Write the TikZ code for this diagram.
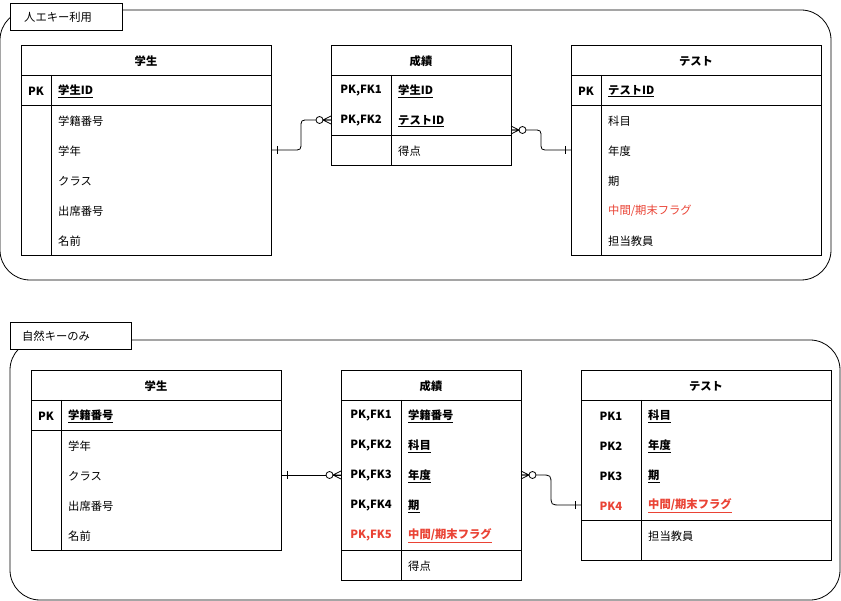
\documentclass[tikz,border=0pt]{standalone}
\usepackage{fontspec}
\setmainfont{Noto Sans CJK JP}
\definecolor{rd}{RGB}{234,67,53}
\newcommand\fsz{\fontsize{11.3}{13}\selectfont}
\begin{document}
\begin{tikzpicture}[x=1pt,y=-1pt,font=\fsz,
  box/.style={draw,line width=0.8pt,inner sep=0pt},
  grp/.style={draw,line width=0.8pt,rounded corners=30pt},
  lbl/.style={draw,fill=white,line width=0.8pt,inner sep=0pt,anchor=north west},
  t/.style={anchor=west,inner sep=0pt},
  tb/.style={anchor=west,inner sep=0pt,font=\fsz\bfseries},
  h/.style={font=\fsz\bfseries,inner sep=0pt},
  k/.style={anchor=center,inner sep=0pt,font=\fsz\bfseries},
  con/.style={line width=0.8pt}]
\useasboundingbox (0,0) rectangle (841,601);
% groups
\draw[grp] (0,10) rectangle (831,280);
\node[lbl,minimum width=112pt,minimum height=27pt] (g1) at (10,3) {};
\node[t] at (24,17) {人エキー利用};
\draw[grp] (10,340) rectangle (840,600);
\node[lbl,minimum width=121pt,minimum height=27pt] (g2) at (10,322) {};
\node[t] at (22,336) {自然キーのみ};

% ---- top: 学生
\draw[box,fill=white] (21,45) rectangle (271,255);
\draw[line width=0.8pt] (21,75)--(271,75) (21,105)--(271,105) (51,75)--(51,255);
\node[h] (a1) at (146,61) {学生};
\node[k] at (36,91) {PK};
\node[tb] at (58,91) {\underline{学生ID}};
\node[t] at (58,121) {学籍番号};
\node[t] at (58,151) {学年};
\node[t] at (58,181) {クラス};
\node[t] at (58,211) {出席番号};
\node[t] at (58,241) {名前};
% top: 成績
\draw[box,fill=white] (331,45) rectangle (511,165);
\draw[line width=0.8pt] (331,75)--(511,75) (331,135)--(511,135) (391,75)--(391,165);
\node[h] (a2) at (421,61) {成績};
\node[k] at (361,91) {PK,FK1};
\node[k] at (361,121) {PK,FK2};
\node[tb] at (398,91) {\underline{学生ID}};
\node[tb] at (398,121) {\underline{テストID}};
\node[t] at (398,151) {得点};
% top: テスト
\draw[box,fill=white] (571,45) rectangle (821,255);
\draw[line width=0.8pt] (571,75)--(821,75) (571,105)--(821,105) (601,75)--(601,255);
\node[h] (a3) at (696,61) {テスト};
\node[k] at (586,91) {PK};
\node[tb] at (608,91) {\underline{テストID}};
\node[t] at (608,121) {科目};
\node[t] at (608,151) {年度};
\node[t] at (608,181) {期};
\node[t,text=rd] at (608,211) {中間/期末フラグ};
\node[t] at (608,241) {担当教員};

% ---- bottom: 学生
\draw[box,fill=white] (31,370) rectangle (281,550);
\draw[line width=0.8pt] (31,400)--(281,400) (31,430)--(281,430) (61,400)--(61,550);
\node[h] (b1) at (156,386) {学生};
\node[k] at (46,416) {PK};
\node[tb] at (68,416) {\underline{学籍番号}};
\node[t] at (68,446) {学年};
\node[t] at (68,476) {クラス};
\node[t] at (68,506) {出席番号};
\node[t] at (68,536) {名前};
% bottom: 成績
\draw[box,fill=white] (341,370) rectangle (521,580);
\draw[line width=0.8pt] (341,400)--(521,400) (341,550)--(521,550) (401,400)--(401,580);
\node[h] (b2) at (431,386) {成績};
\node[k] at (371,416) {PK,FK1};
\node[k] at (371,446) {PK,FK2};
\node[k] at (371,476) {PK,FK3};
\node[k] at (371,506) {PK,FK4};
\node[k,text=rd] at (371,536) {PK,FK5};
\node[tb] at (408,416) {\underline{学籍番号}};
\node[tb] at (408,446) {\underline{科目}};
\node[tb] at (408,476) {\underline{年度}};
\node[tb] at (408,506) {\underline{期}};
\node[tb,text=rd] at (408,536) {\underline{中間/期末フラグ}};
\node[t] at (408,566) {得点};
% bottom: テスト
\draw[box,fill=white] (581,370) rectangle (831,560);
\draw[line width=0.8pt] (581,400)--(831,400) (581,520)--(831,520) (641,400)--(641,560);
\node[h] (b3) at (706,386) {テスト};
\node[k] at (611,416) {PK1};
\node[k] at (611,446) {PK2};
\node[k] at (611,476) {PK3};
\node[k,text=rd] at (611,506) {PK4};
\node[tb] at (648,416) {\underline{科目}};
\node[tb] at (648,446) {\underline{年度}};
\node[tb] at (648,476) {\underline{期}};
\node[tb,text=rd] at (648,506) {\underline{中間/期末フラグ}};
\node[t] at (648,536) {担当教員};

% ---- connectors
\newcommand\onebar[3]{\draw[con] (#1+#3*6,#2-4)--(#1+#3*6,#2+4);}
\newcommand\manyzero[3]{\draw[con] (#1+#3*8,#2)--(#1,#2-4) (#1+#3*8,#2)--(#1,#2) (#1+#3*8,#2)--(#1,#2+4);
  \draw[con,fill=white] (#1+#3*11.5,#2) circle (3.5);}
\coordinate (c1) at (271,150); \coordinate (c2) at (331,120);
\draw[con] (c1) -- (293,150) .. controls (301,150) and (301,150) .. (301,142) -- (301,128) .. controls (301,120) and (301,120) .. (309,120) -- (c2);
\onebar{271}{150}{1}\manyzero{331}{120}{-1}
\coordinate (c3) at (511,130); \coordinate (c4) at (571,150);
\draw[con] (c3) -- (533,130) .. controls (541,130) and (541,130) .. (541,138) -- (541,142) .. controls (541,150) and (541,150) .. (549,150) -- (c4);
\manyzero{511}{130}{1}\onebar{571}{150}{-1}
\coordinate (c5) at (281,475); \coordinate (c6) at (341,475);
\draw[con] (c5) -- (c6);
\onebar{281}{475}{1}\manyzero{341}{475}{-1}
\coordinate (c7) at (521,475); \coordinate (c8) at (581,505);
\draw[con] (c7) -- (541,475) .. controls (551,475) and (551,475) .. (551,485) -- (551,495) .. controls (551,505) and (551,505) .. (561,505) -- (c8);
\manyzero{521}{475}{1}\onebar{581}{505}{-1}
\end{tikzpicture}
\end{document}
